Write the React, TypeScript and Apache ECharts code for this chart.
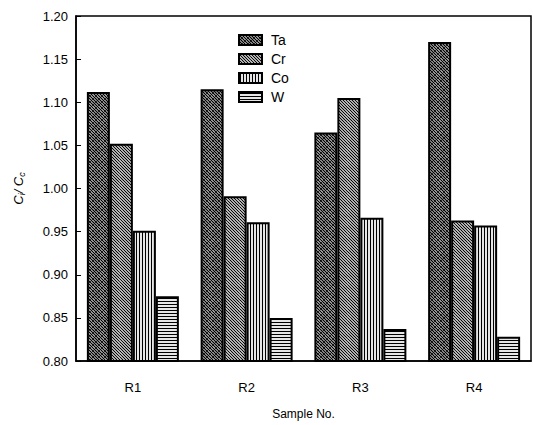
import React, { useEffect, useRef } from "react";
import * as echarts from "echarts";

const categories = ["R1", "R2", "R3", "R4"];
const seriesNames = ["Ta", "Cr", "Co", "W"];
const taValues = [1.112, 1.115, 1.065, 1.17];
const crValues = [1.052, 0.991, 1.105, 0.963];
const coValues = [0.951, 0.961, 0.966, 0.957];
const wValues = [0.875, 0.85, 0.837, 0.828];
const yTicks = [0.8, 0.85, 0.9, 0.95, 1.0, 1.05, 1.1, 1.15, 1.2];

function makePattern(kind: string) {
  const s = 12;
  const c = document.createElement("canvas");
  c.width = s;
  c.height = s;
  const g = c.getContext("2d")!;
  g.fillStyle = "#fff";
  g.fillRect(0, 0, s, s);
  g.strokeStyle = "#000";
  if (kind === "Ta" || kind === "Cr") {
    g.lineWidth = kind === "Ta" ? 1.3 : 1.2;
    for (let k = -s; k <= s; k += 3) {
      g.beginPath();
      g.moveTo(k - 1, -1);
      g.lineTo(k + s + 1, s + 1);
      g.stroke();
    }
    if (kind === "Ta") {
      g.lineWidth = 0.7;
      for (let k = 0; k <= 2 * s; k += 6) {
        g.beginPath();
        g.moveTo(k + 1, -1);
        g.lineTo(k - s - 1, s + 1);
        g.stroke();
      }
    }
  } else if (kind === "Co") {
    g.lineWidth = 1.2;
    for (let x = 1; x < s; x += 3) {
      g.beginPath();
      g.moveTo(x + 0.5, 0);
      g.lineTo(x + 0.5, s);
      g.stroke();
    }
  } else {
    g.lineWidth = 1.2;
    for (let y = 1; y < s; y += 3) {
      g.beginPath();
      g.moveTo(0, y + 0.5);
      g.lineTo(s, y + 0.5);
      g.stroke();
    }
  }
  return { image: c, repeat: "repeat" } as any;
}

export default function App() {
  const ref = useRef<HTMLDivElement>(null);
  useEffect(() => {
    if (!ref.current) return;
    const chart = echarts.init(ref.current, null, { renderer: "svg" });
    const font = "'Liberation Sans', Arial, sans-serif";
    const allValues = [taValues, crValues, coValues, wValues];
    chart.setOption({
      animation: false,
      backgroundColor: "#fff",
      textStyle: { fontFamily: font, color: "#000" },
      grid: {
        left: 76,
        right: 2,
        top: 16,
        bottom: 64,
        show: true,
        borderColor: "#000",
        borderWidth: 1.5,
        backgroundColor: "transparent",
      },
      legend: {
        orient: "vertical",
        left: 233,
        top: 28,
        itemWidth: 23,
        itemHeight: 10,
        itemGap: 5,
        icon: "rect",
        data: seriesNames,
        textStyle: { fontFamily: font, fontSize: 14, color: "#000", padding: [0, 0, 0, 4] },
      },
      xAxis: {
        type: "category",
        data: categories,
        name: "Sample No.",
        nameLocation: "middle",
        nameGap: 47,
        nameTextStyle: { fontFamily: font, fontSize: 12, color: "#000" },
        axisLine: { lineStyle: { color: "#000", width: 1.5 } },
        axisTick: { show: false },
        axisLabel: { fontFamily: font, fontSize: 13, color: "#000", margin: 20 },
      },
      yAxis: {
        type: "value",
        min: 0.8,
        max: 1.2,
        interval: 0.05,
        name: "{a|C}{s|i}{a|/ C}{s|c}",
        nameLocation: "middle",
        nameGap: 50,
        nameRotate: 90,
        nameTextStyle: {
          rich: {
            a: { fontFamily: font, fontSize: 13, fontStyle: "italic", color: "#000" },
            s: { fontFamily: font, fontSize: 9, fontStyle: "italic", color: "#000", verticalAlign: "bottom", padding: [6, 0, 0, 0] },
          },
        },
        axisLine: { show: true, lineStyle: { color: "#000", width: 1.5 } },
        axisTick: { show: true, inside: true, length: 5, lineStyle: { color: "#000", width: 1 } },
        splitLine: { show: false },
        axisLabel: {
          fontFamily: font,
          fontSize: 13,
          color: "#000",
          margin: 8,
          formatter: (v: number) => (yTicks.some((t) => Math.abs(t - v) < 1e-6) ? v.toFixed(2) : ""),
        },
      },
      series: seriesNames.map((name, i) => ({
        name,
        type: "bar",
        data: allValues[i],
        barWidth: 23,
        barGap: "0%",
        itemStyle: {
          color: makePattern(name),
          borderColor: "#000",
          borderWidth: 2,
        },
      })),
    });
    return () => chart.dispose();
  }, []);
  return <div ref={ref} style={{ width: 533, height: 425, position: "absolute", left: 0, top: 0 }} />;
}
